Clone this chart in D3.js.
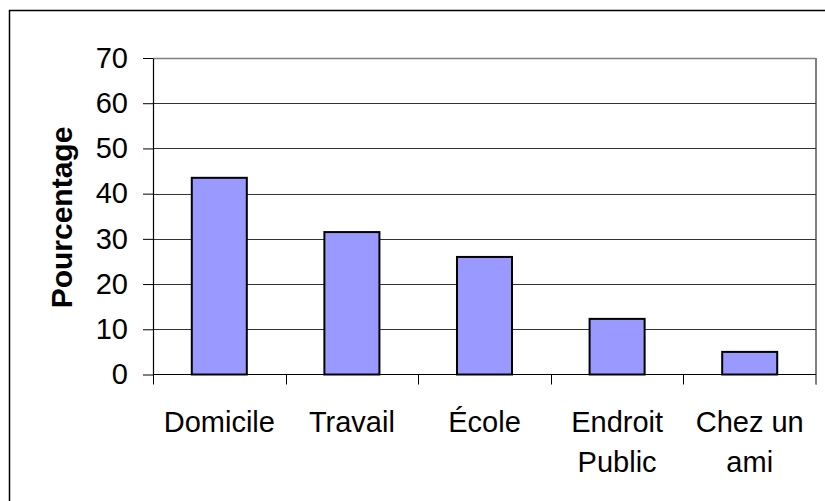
<!DOCTYPE html>
<html>
<head>
<meta charset="utf-8">
<script src="https://cdn.jsdelivr.net/npm/d3@7"></script>
<style>
  html, body { margin: 0; padding: 0; background: #fff; }
  svg { display: block; }
  text { font-family: "Liberation Sans", Arial, sans-serif; fill: #000; }
</style>
</head>
<body>
<svg id="chart" width="825" height="501"></svg>
<script>
const categories = ["Domicile", "Travail", "École", "Endroit\nPublic", "Chez un\nami"];
const values = [43.5, 31.5, 26, 12.3, 5.0];
const yTicks = [0, 10, 20, 30, 40, 50, 60, 70];
const yTitle = "Pourcentage";

const svg = d3.select("#chart");
const plot = { left: 153, right: 816, top: 58, bottom: 374.5 };

// outer chart border (extends past right/bottom edges as in reference)
svg.append("rect")
  .attr("x", 9.5).attr("y", 10.5)
  .attr("width", 900).attr("height", 600)
  .attr("fill", "none").attr("stroke", "#000").attr("stroke-width", 1.5);

const y = d3.scaleLinear().domain([0, 70]).range([plot.bottom, plot.top]);
const xCat = d3.scaleBand().domain(categories).range([plot.left, plot.right]).padding(0);
const xBar = d3.scaleBand().domain(categories).range([plot.left, plot.right])
  .paddingInner(0.585).paddingOuter(0.2925);

// plot area border (gray)
svg.append("line")
  .attr("x1", plot.left).attr("x2", plot.right)
  .attr("y1", plot.top + 0.5).attr("y2", plot.top + 0.5)
  .attr("stroke", "#808080").attr("stroke-width", 1.5);
svg.append("line")
  .attr("x1", plot.right).attr("x2", plot.right)
  .attr("y1", plot.top).attr("y2", plot.bottom + 10)
  .attr("stroke", "#808080").attr("stroke-width", 2);

// gridlines
svg.append("g").selectAll("line")
  .data(yTicks.filter(t => t > 0 && t < 70))
  .join("line")
  .attr("x1", plot.left).attr("x2", plot.right)
  .attr("y1", d => Math.round(y(d)) + 0.5).attr("y2", d => Math.round(y(d)) + 0.5)
  .attr("stroke", "#333").attr("stroke-width", 1);

// bars
svg.append("g").selectAll("rect")
  .data(values)
  .join("rect")
  .attr("x", (d, i) => xBar(categories[i]))
  .attr("y", d => y(d))
  .attr("width", xBar.bandwidth())
  .attr("height", d => plot.bottom - y(d))
  .attr("fill", "#9999FF")
  .attr("stroke", "#000")
  .attr("stroke-width", 2);

// y axis
const yAxis = d3.axisLeft(y).tickValues(yTicks).tickSize(10).tickPadding(15).tickSizeOuter(0);
const gy = svg.append("g").attr("transform", `translate(${plot.left},0)`).call(yAxis);
gy.select(".domain").attr("stroke", "#000").attr("stroke-width", 1.2);
gy.selectAll(".tick line").attr("stroke", "#000");
gy.selectAll(".tick text")
  .attr("font-family", "'Liberation Sans', Arial, sans-serif")
  .attr("font-size", 29).attr("fill", "#000");

// x axis: ticks at category boundaries
const boundaries = categories.map(c => xCat(c)).concat([plot.right]);
svg.append("line")
  .attr("x1", plot.left).attr("x2", plot.right)
  .attr("y1", plot.bottom).attr("y2", plot.bottom)
  .attr("stroke", "#000").attr("stroke-width", 1.2);
svg.append("g").selectAll("line")
  .data(boundaries)
  .join("line")
  .attr("x1", d => Math.round(d) + 0.5).attr("x2", d => Math.round(d) + 0.5)
  .attr("y1", plot.bottom).attr("y2", plot.bottom + 10)
  .attr("stroke", d => d === plot.right ? "#808080" : "#000");

// category labels
const labels = svg.append("g").selectAll("text")
  .data(categories)
  .join("text")
  .attr("text-anchor", "middle")
  .attr("font-size", 29)
  .attr("transform", d => `translate(${xCat(d) + xCat.bandwidth() / 2},431.5)`);
labels.each(function(d) {
  const lines = d.split("\n");
  d3.select(this).selectAll("tspan")
    .data(lines).join("tspan")
    .attr("x", 0)
    .attr("y", (l, i) => i * 40)
    .text(l => l);
});

// y title
svg.append("text")
  .attr("transform", "translate(72,217.5) rotate(-90)")
  .attr("text-anchor", "middle")
  .attr("font-size", 30)
  .attr("font-weight", "bold")
  .text(yTitle);
</script>
</body>
</html>
